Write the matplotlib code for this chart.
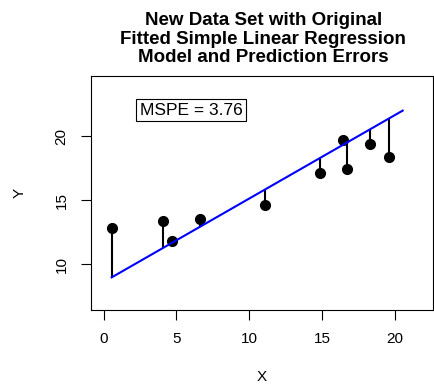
import numpy as np
import matplotlib.pyplot as plt

plt.rcParams['font.family'] = ['Liberation Sans', 'DejaVu Sans']

# new data set
x_new = [0.59, 4.10, 4.69, 6.61, 11.05, 14.83, 16.46, 16.73, 18.29, 19.62]
y_new = [12.84, 13.36, 11.77, 13.52, 14.61, 17.13, 19.66, 17.45, 19.40, 18.33]

# original fitted line
b0 = 8.60
b1 = 0.652
line_x = [0.55, 20.53]
mspe = 3.76

x_new = np.array(x_new)
y_new = np.array(y_new)
y_hat = b0 + b1 * x_new
lx = np.array(line_x)

fig = plt.figure(figsize=(4.35, 3.85), dpi=100)
ax = fig.add_axes([0.2085, 0.1948, 0.7865, 0.6078])

# prediction errors
ax.vlines(x_new, y_hat, y_new, color='black', linewidth=1.5)
ax.plot(x_new, y_new, 'o', color='black', markersize=7)
ax.plot(lx, b0 + b1 * lx, color='blue', linewidth=1.5)

ax.text(6.0, 22.03, 'MSPE = %.2f' % mspe, fontsize=12.5, ha='center', va='center',
        bbox=dict(boxstyle='square,pad=0.2', facecolor='white', edgecolor='black', linewidth=0.8))

ax.set_xlim(-0.89, 22.6)
ax.set_ylim(6.41, 24.69)
ax.set_xticks([0, 5, 10, 15, 20])
ax.set_yticks([10, 15, 20])
ax.tick_params(axis='both', direction='out', length=7, width=0.8, labelsize=11)
ax.tick_params(axis='x', pad=9)
ax.tick_params(axis='y', pad=9)
for lab in ax.get_yticklabels():
    lab.set_rotation(90)
    lab.set_va('center')

ax.set_xlabel('X', fontsize=11, labelpad=17)
ax.set_ylabel('Y', fontsize=11, labelpad=20)

fig.text(0.605, 0.968, 'New Data Set with Original\nFitted Simple Linear Regression\nModel and Prediction Errors',
         ha='center', va='top', fontsize=13.5, fontweight='bold', linespacing=1.1)

fig.savefig('out.png', dpi=100)
